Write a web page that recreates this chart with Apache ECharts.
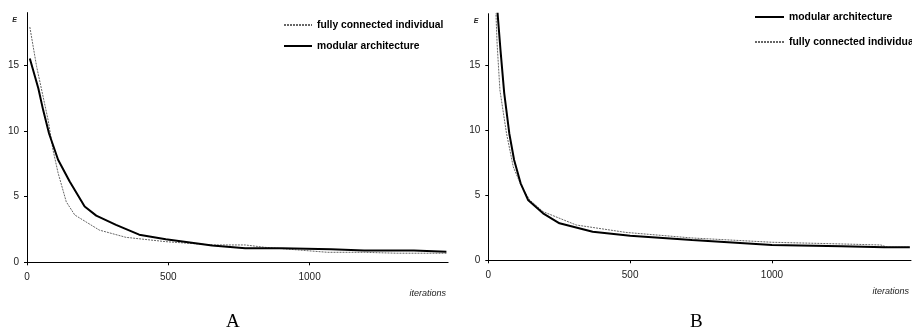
<!DOCTYPE html>
<html>
<head>
<meta charset="utf-8">
<script src="https://cdn.jsdelivr.net/npm/echarts@6/dist/echarts.min.js"></script>
<style>
  html, body { margin: 0; padding: 0; background: #fff; }
  #chart { width: 912px; height: 329px; }
</style>
</head>
<body>
<div id="chart"></div>
<script>
// panel A
let iterAFull = [10, 34, 75, 92, 110, 139, 169, 256, 350, 491, 655, 772, 842, 959, 1064, 1193, 1310, 1484];
let errAFull = [17.9, 14.9, 10.8, 8.55, 6.8, 4.6, 3.6, 2.45, 1.9, 1.57, 1.32, 1.32, 1.14, 0.94, 0.76, 0.76, 0.69, 0.69];
let iterAMod = [10, 40, 57, 78, 110, 151, 204, 245, 315, 397, 491, 655, 772, 900, 1076, 1193, 1369, 1484];
let errAMod = [15.5, 13.25, 11.6, 9.8, 7.8, 6.15, 4.25, 3.55, 2.85, 2.1, 1.75, 1.27, 1.07, 1.07, 0.99, 0.89, 0.89, 0.81];

// panel B
let iterBMod = [28, 33, 43, 56, 74, 91, 114, 140, 193, 251, 368, 500, 718, 1000, 1244, 1396, 1486];
let errBMod = [21, 18.95, 16.2, 12.9, 9.77, 7.73, 5.93, 4.65, 3.62, 2.85, 2.2, 1.9, 1.57, 1.18, 1.08, 1.0, 1.0];
let iterBFull = [23, 27, 31, 41, 64, 88, 117, 146, 193, 310, 485, 718, 1000, 1244, 1384, 1407, 1486];
let errBFull = [21, 19, 16.7, 13.1, 9.8, 7.2, 5.7, 4.65, 3.75, 2.72, 2.15, 1.72, 1.39, 1.26, 1.18, 1.0, 1.0];

let xTicks = [0, 500, 1000];
let yTicks = [0, 5, 10, 15];

function pairs(xs, ys) {
  return xs.map(function (x, i) { return [x, ys[i]]; });
}

var font = "'Liberation Sans', Arial, sans-serif";
var serif = "'Liberation Serif', 'Times New Roman', serif";
var chart = echarts.init(document.getElementById('chart'));

function xAxisFor(gridIndex) {
  return {
    gridIndex: gridIndex,
    type: 'value',
    min: 0,
    max: 1490,
    name: 'iterations',
    nameLocation: 'end',
    nameGap: -2,
    nameTextStyle: { fontFamily: font, fontSize: 9, fontStyle: 'italic', color: '#222', align: 'right', verticalAlign: 'top', padding: [27, 0, 0, 0] },
    axisLine: { lineStyle: { color: '#000', width: 1 } },
    axisTick: { customValues: xTicks, length: 3, lineStyle: { color: '#000' } },
    axisLabel: { customValues: xTicks, formatter: function (v) { return String(v); }, fontFamily: font, fontSize: 10, color: '#222', margin: 10 },
    splitLine: { show: false }
  };
}

function yAxisFor(gridIndex) {
  return {
    gridIndex: gridIndex,
    type: 'value',
    min: 0,
    max: 19,
    name: 'E',
    nameLocation: 'end',
    nameGap: -7,
    nameTextStyle: { fontFamily: font, fontSize: 7, fontStyle: 'italic', fontWeight: 'bold', color: '#222', align: 'right', verticalAlign: 'middle', padding: [0, 10, 0, 0] },
    axisLine: { show: true, lineStyle: { color: '#000', width: 1 } },
    axisTick: { show: true, customValues: yTicks, length: 3, lineStyle: { color: '#000' } },
    axisLabel: { customValues: yTicks, fontFamily: font, fontSize: 10, color: '#222', margin: 8 },
    splitLine: { show: false }
  };
}

var fullStyle = { color: '#666', width: 1, type: [2, 1] };
var modStyle = { color: '#000', width: 2 };

option = {
  animation: false,
  title: [
    { text: 'A', left: 226, top: 313, padding: 0, textStyle: { fontFamily: serif, fontSize: 19, fontWeight: 'normal', color: '#000' } },
    { text: 'B', left: 690, top: 313, padding: 0, textStyle: { fontFamily: serif, fontSize: 19, fontWeight: 'normal', color: '#000' } }
  ],
  legend: [
    {
      data: ['fully connected individual', 'modular architecture'],
      orient: 'vertical', left: 283, top: 20, itemGap: 11, itemWidth: 28, itemHeight: 10,
      selectedMode: false, padding: 0, itemStyle: { opacity: 0 },
      textStyle: { fontFamily: font, fontSize: 10.3, fontWeight: 'bold', color: '#000' }
    },
    {
      data: ['modular architecture', 'fully connected individual'],
      orient: 'vertical', left: 754, top: 12, itemGap: 15, itemWidth: 29, itemHeight: 10,
      selectedMode: false, padding: 0, itemStyle: { opacity: 0 },
      textStyle: { fontFamily: font, fontSize: 10.4, fontWeight: 'bold', color: '#000' }
    }
  ],
  grid: [
    { left: 27, top: 12.6, right: 463.9, bottom: 66.7 },
    { left: 488.3, top: 13.7, right: -1.5, bottom: 68.7 }
  ],
  xAxis: [xAxisFor(0), xAxisFor(1)],
  yAxis: [yAxisFor(0), yAxisFor(1)],
  series: [
    { name: 'fully connected individual', type: 'line', xAxisIndex: 0, yAxisIndex: 0, symbol: 'none', lineStyle: fullStyle, itemStyle: { color: '#666' }, data: pairs(iterAFull, errAFull) },
    { name: 'modular architecture', type: 'line', xAxisIndex: 0, yAxisIndex: 0, symbol: 'none', lineStyle: modStyle, itemStyle: { color: '#000' }, data: pairs(iterAMod, errAMod) },
    { name: 'fully connected individual', type: 'line', xAxisIndex: 1, yAxisIndex: 1, symbol: 'none', lineStyle: fullStyle, itemStyle: { color: '#666' }, data: pairs(iterBFull, errBFull) },
    { name: 'modular architecture', type: 'line', xAxisIndex: 1, yAxisIndex: 1, symbol: 'none', lineStyle: modStyle, itemStyle: { color: '#000' }, data: pairs(iterBMod, errBMod) }
  ]
};

chart.setOption(option);
</script>
</body>
</html>
